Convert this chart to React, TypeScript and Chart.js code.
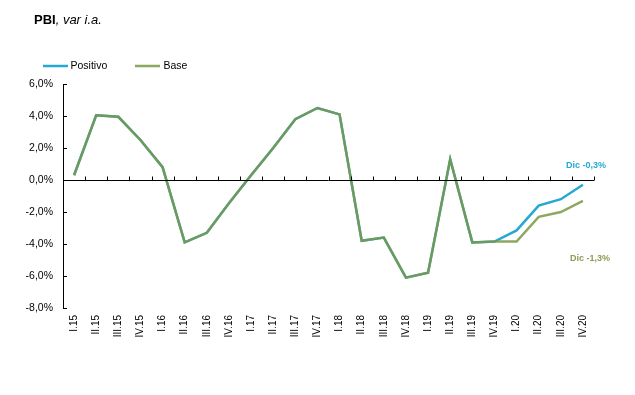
import React, { useEffect, useRef } from "react";
import { Chart, registerables } from "chart.js";

Chart.register(...registerables);

const categories = [
  "I.15", "II.15", "III.15", "IV.15",
  "I.16", "II.16", "III.16", "IV.16",
  "I.17", "II.17", "III.17", "IV.17",
  "I.18", "II.18", "III.18", "IV.18",
  "I.19", "II.19", "III.19", "IV.19",
  "I.20", "II.20", "III.20", "IV.20",
];

const positivo = [
  0.3, 4.05, 3.95, 2.5,
  0.8, -3.9, -3.3, -1.45,
  0.3, 2.0, 3.8, 4.5,
  4.1, -3.8, -3.6, -6.1,
  -5.8, 1.3, -3.9, -3.85,
  -3.15, -1.6, -1.2, -0.3,
];

const base = [
  0.3, 4.05, 3.95, 2.5,
  0.8, -3.9, -3.3, -1.45,
  0.3, 2.0, 3.8, 4.5,
  4.1, -3.8, -3.6, -6.1,
  -5.8, 1.3, -3.9, -3.85,
  -3.85, -2.3, -2.0, -1.3,
];

const seriesNames = ["Positivo", "Base"];
const endLabels = ["Dic -0,3%", "Dic -1,3%"];
const yMin = -8;
const yMax = 6;
const yStep = 2;

const BLUE = "#26A8D2";
const OLIVE = "rgba(122,152,69,0.85)";
const OLIVE_TEXT = "#8C9A55";
const FONT = "Arial, 'Liberation Sans', sans-serif";

const decorPlugin = {
  id: "decor",
  afterDatasetsDraw(chart: any) {
    const { ctx, chartArea, scales } = chart;
    const y = scales.y;
    ctx.save();
    // zero line
    const y0 = Math.round(y.getPixelForValue(0)) + 0.5;
    ctx.strokeStyle = "#000";
    ctx.lineWidth = 1;
    ctx.beginPath();
    ctx.moveTo(chartArea.left, y0);
    ctx.lineTo(chartArea.right, y0);
    ctx.stroke();
    // x tick marks on zero line, at category boundaries
    const n = categories.length;
    const w = (chartArea.right - chartArea.left) / n;
    ctx.beginPath();
    for (let i = 1; i <= n; i++) {
      const px = Math.round(chartArea.left + i * w) + 0.5;
      ctx.moveTo(px, y0);
      ctx.lineTo(px, y0 - 4);
    }
    ctx.stroke();
    // y ticks inward
    ctx.beginPath();
    for (let v = yMin; v <= yMax; v += yStep) {
      const py = Math.round(y.getPixelForValue(v)) + 0.5;
      ctx.moveTo(chartArea.left, py);
      ctx.lineTo(chartArea.left + 4, py);
    }
    ctx.stroke();

    // title
    ctx.fillStyle = "#000";
    ctx.textBaseline = "alphabetic";
    ctx.textAlign = "left";
    ctx.font = `bold 13px ${FONT}`;
    ctx.fillText("PBI", 34, 23.5);
    const tw = ctx.measureText("PBI").width;
    ctx.font = `italic 13px ${FONT}`;
    ctx.fillText(", var i.a.", 34 + tw, 23.5);

    // legend
    ctx.lineWidth = 2.5;
    ctx.strokeStyle = BLUE;
    ctx.beginPath();
    ctx.moveTo(43, 66);
    ctx.lineTo(68, 66);
    ctx.stroke();
    ctx.strokeStyle = OLIVE;
    ctx.beginPath();
    ctx.moveTo(135, 66);
    ctx.lineTo(160, 66);
    ctx.stroke();
    ctx.font = `10.5px ${FONT}`;
    ctx.textBaseline = "middle";
    ctx.fillStyle = "#000";
    ctx.fillText(seriesNames[0], 70.5, 66);
    ctx.fillText(seriesNames[1], 163.5, 66);

    // end labels
    ctx.font = `bold 9px ${FONT}`;
    ctx.fillStyle = BLUE;
    ctx.fillText(endLabels[0], 566, 165.5);
    ctx.fillStyle = OLIVE_TEXT;
    ctx.fillText(endLabels[1], 570, 258.5);
    ctx.restore();
  },
};

export default function App() {
  const ref = useRef<HTMLCanvasElement | null>(null);
  useEffect(() => {
    if (!ref.current) return;
    const chart = new Chart(ref.current, {
      type: "line",
      data: {
        labels: categories,
        datasets: [
          {
            label: seriesNames[0],
            data: positivo,
            borderColor: BLUE,
            backgroundColor: BLUE,
            borderWidth: 2.5,
            pointRadius: 0,
            tension: 0,
            order: 1,
          },
          {
            label: seriesNames[1],
            data: base,
            borderColor: OLIVE,
            backgroundColor: OLIVE,
            borderWidth: 2.5,
            pointRadius: 0,
            tension: 0,
            order: 0,
          },
        ],
      },
      options: {
        responsive: false,
        animation: false,
        devicePixelRatio: 1,
        layout: { padding: { left: 0, right: 41, top: 84, bottom: 0 } },
        plugins: {
          legend: { display: false },
          title: { display: false },
          tooltip: { enabled: false },
        },
        scales: {
          x: {
            type: "category",
            offset: true,
            grid: { display: false, drawTicks: false },
            border: { display: false },
            ticks: {
              minRotation: 90,
              maxRotation: 90,
              autoSkip: false,
              padding: 7,
              color: "#000",
              font: { family: FONT, size: 10 },
            },
            afterFit: (s: any) => {
              s.height = 87;
            },
          },
          y: {
            min: yMin,
            max: yMax,
            grid: { display: false, drawTicks: false },
            border: { display: true, color: "#000", width: 1 },
            ticks: {
              stepSize: yStep,
              padding: 10,
              color: "#000",
              font: { family: FONT, size: 10.5 },
              callback: (v: any) => Number(v).toFixed(1).replace(".", ",") + "%",
            },
            afterFit: (s: any) => {
              s.width = 63;
            },
          },
        },
      },
      plugins: [decorPlugin],
    });
    return () => chart.destroy();
  }, []);
  return (
    <div style={{ position: "fixed", left: 0, top: 0, width: 635, height: 395, background: "#fff" }}>
      <canvas ref={ref} width={635} height={395} style={{ width: 635, height: 395, display: "block" }} />
    </div>
  );
}
